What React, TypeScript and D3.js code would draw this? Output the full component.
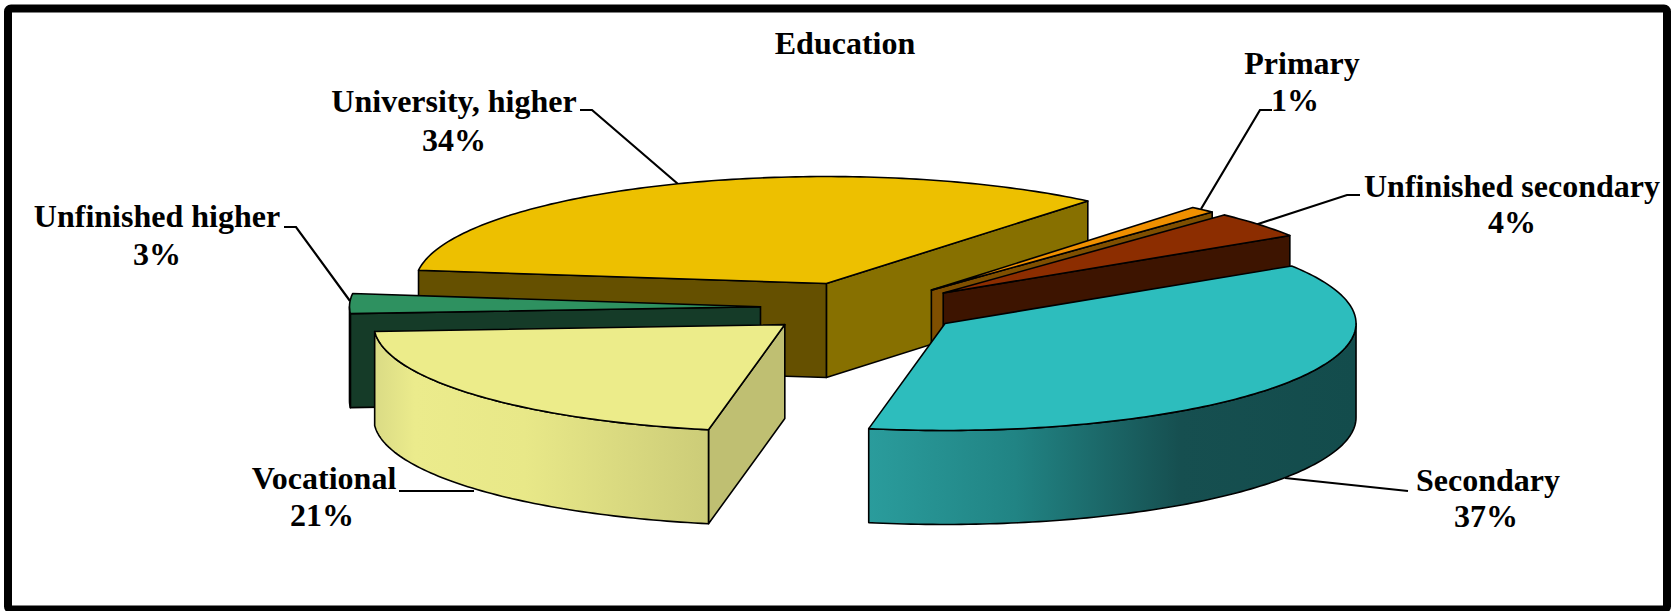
import React from "react";
import * as d3 from "d3";

const categories = ["University, higher", "Primary", "Unfinished secondary", "Secondary", "Vocational", "Unfinished higher"];
const shares = [34, 1, 4, 37, 21, 3];
const title = "Education";

const topColors = ["#EDC000", "#F09000", "#8C2D00", "#2DBDBD", "#ECEC8A", "#2E9160"];
const startWallColors = ["#655000", "#7F4F00", "#3D1400", "#164F50", "#BFBF72", "#153B28"];
const endWallColors = ["#877000", "#7F4F00", "#3D1400", "#164F50", "#BFBF72", "#153B28"];
const outerWallFills = ["#655000", "#7F4F00", "#3D1400", "url(#tealWall)", "url(#paleWall)", "#153B28"];
const paintOrder = [0, 5, 4, 1, 2, 3];
// small per-slice layout corrections to the explosion offset
const nudgeX = [0, 3, 4, 0, -4, -3.5];
const nudgeY = [0, 2, 2, 1.5, 0, 0];

// label layout: [line 1 centre x, line 1 baseline y, line 2 centre x, line 2 baseline y]
const labelSpots = [
  [454, 112, 454, 151],
  [1302, 74, 1295, 111],
  [1512, 197, 1512, 233],
  [1488, 491, 1486, 527],
  [324, 489, 322, 526],
  [157, 227, 157, 265],
];
const leaderPoints: [number, number][][] = [
  [[678, 184], [592, 110], [580, 110]],
  [[1201, 209], [1260, 110], [1272, 110]],
  [[1255, 225], [1347, 195], [1360, 195]],
  [[1285, 478], [1408, 491]],
  [[474, 491], [399, 491]],
  [[350, 301], [296, 227], [284, 227]],
];

const CX = 863, CY = 307.5, RX = 411, RY = 107, DEPTH = 94, EXPLODE = 0.241;
const rad = (d: number) => (d * Math.PI) / 180;

const pieGen = d3.pie<number>().sort(null).startAngle(rad(-82.9)).endAngle(rad(277.1));
const arcs = pieGen(shares);

const px = d3.scaleLinear().domain([-1, 1]).range([-RX, RX]);
const py = d3.scaleLinear().domain([-1, 1]).range([RY, -RY]);
const line = d3.line<[number, number]>();

function sample(a0: number, a1: number) {
  const n = Math.max(2, Math.ceil(Math.abs(a1 - a0) / rad(1)));
  return d3.range(n + 1).map((i) => a0 + ((a1 - a0) * i) / n);
}

function slicePaths(a: d3.PieArcDatum<number>, i: number) {
  const mid = (a.startAngle + a.endAngle) / 2;
  const ox = CX + px(Math.sin(mid)) * EXPLODE + nudgeX[i];
  const oy = CY + py(Math.cos(mid)) * EXPLODE + nudgeY[i];
  const pt = (t: number, dz = 0): [number, number] => [ox + px(Math.sin(t)), oy + py(Math.cos(t)) + dz];
  const top = line([[ox, oy], ...sample(a.startAngle, a.endAngle).map((t) => pt(t))]) + "Z";
  const wall = (t: number) => line([[ox, oy], pt(t), pt(t, DEPTH), [ox, oy + DEPTH]]) + "Z";
  const startWall = Math.cos(a.startAngle - Math.PI / 2) < 0 ? wall(a.startAngle) : null;
  const endWall = Math.cos(a.endAngle + Math.PI / 2) < 0 ? wall(a.endAngle) : null;
  const o0 = Math.max(a.startAngle, Math.PI / 2);
  const o1 = Math.min(a.endAngle, (3 * Math.PI) / 2);
  let outer: string | null = null;
  if (o1 > o0) {
    const ts = sample(o0, o1);
    outer = line([...ts.map((t) => pt(t)), ...ts.slice().reverse().map((t) => pt(t, DEPTH))]) + "Z";
  }
  return { top, startWall, endWall, outer };
}

const font = { fontFamily: "'Liberation Serif', 'Times New Roman', serif", fontWeight: 700, fontSize: 32, fill: "#000" };

export default function App() {
  return (
    <svg width={1671} height={611} style={{ position: "fixed", left: 0, top: 0, background: "#fff" }}>
      <defs>
        <linearGradient id="tealWall" x1="0" x2="1" y1="0" y2="0">
          <stop offset="0" stopColor="#2A9C9C" />
          <stop offset="0.3" stopColor="#218484" />
          <stop offset="0.64" stopColor="#164F50" />
          <stop offset="1" stopColor="#134C4C" />
        </linearGradient>
        <linearGradient id="paleWall" x1="0" x2="1" y1="0" y2="0">
          <stop offset="0" stopColor="#DADB85" />
          <stop offset="0.12" stopColor="#EBEB8C" />
          <stop offset="0.45" stopColor="#E8E888" />
          <stop offset="1" stopColor="#CCCC78" />
        </linearGradient>
      </defs>
      <rect x={8} y={8.5} width={1659} height={601} rx={3} fill="#fff" stroke="#000" strokeWidth={8} />
      <text x={845} y={54} textAnchor="middle" {...font}>{title}</text>
      {leaderPoints.map((pts, i) => (
        <path key={i} d={line(pts) as string} fill="none" stroke="#000" strokeWidth={2.2} />
      ))}
      {paintOrder.map((i) => {
        const p = slicePaths(arcs[i], i);
        const common = { stroke: "#000", strokeWidth: 1.6, strokeLinejoin: "round" as const };
        return (
          <g key={categories[i]}>
            {p.endWall && <path d={p.endWall} fill={endWallColors[i]} {...common} />}
            {p.startWall && <path d={p.startWall} fill={startWallColors[i]} {...common} />}
            {p.outer && <path d={p.outer} fill={outerWallFills[i]} {...common} />}
            <path d={p.top} fill={topColors[i]} {...common} />
          </g>
        );
      })}
      {categories.map((c, i) => (
        <g key={c} textAnchor="middle" {...font}>
          <text x={labelSpots[i][0]} y={labelSpots[i][1]}>{c}</text>
          <text x={labelSpots[i][2]} y={labelSpots[i][3]}>{shares[i]}%</text>
        </g>
      ))}
    </svg>
  );
}
